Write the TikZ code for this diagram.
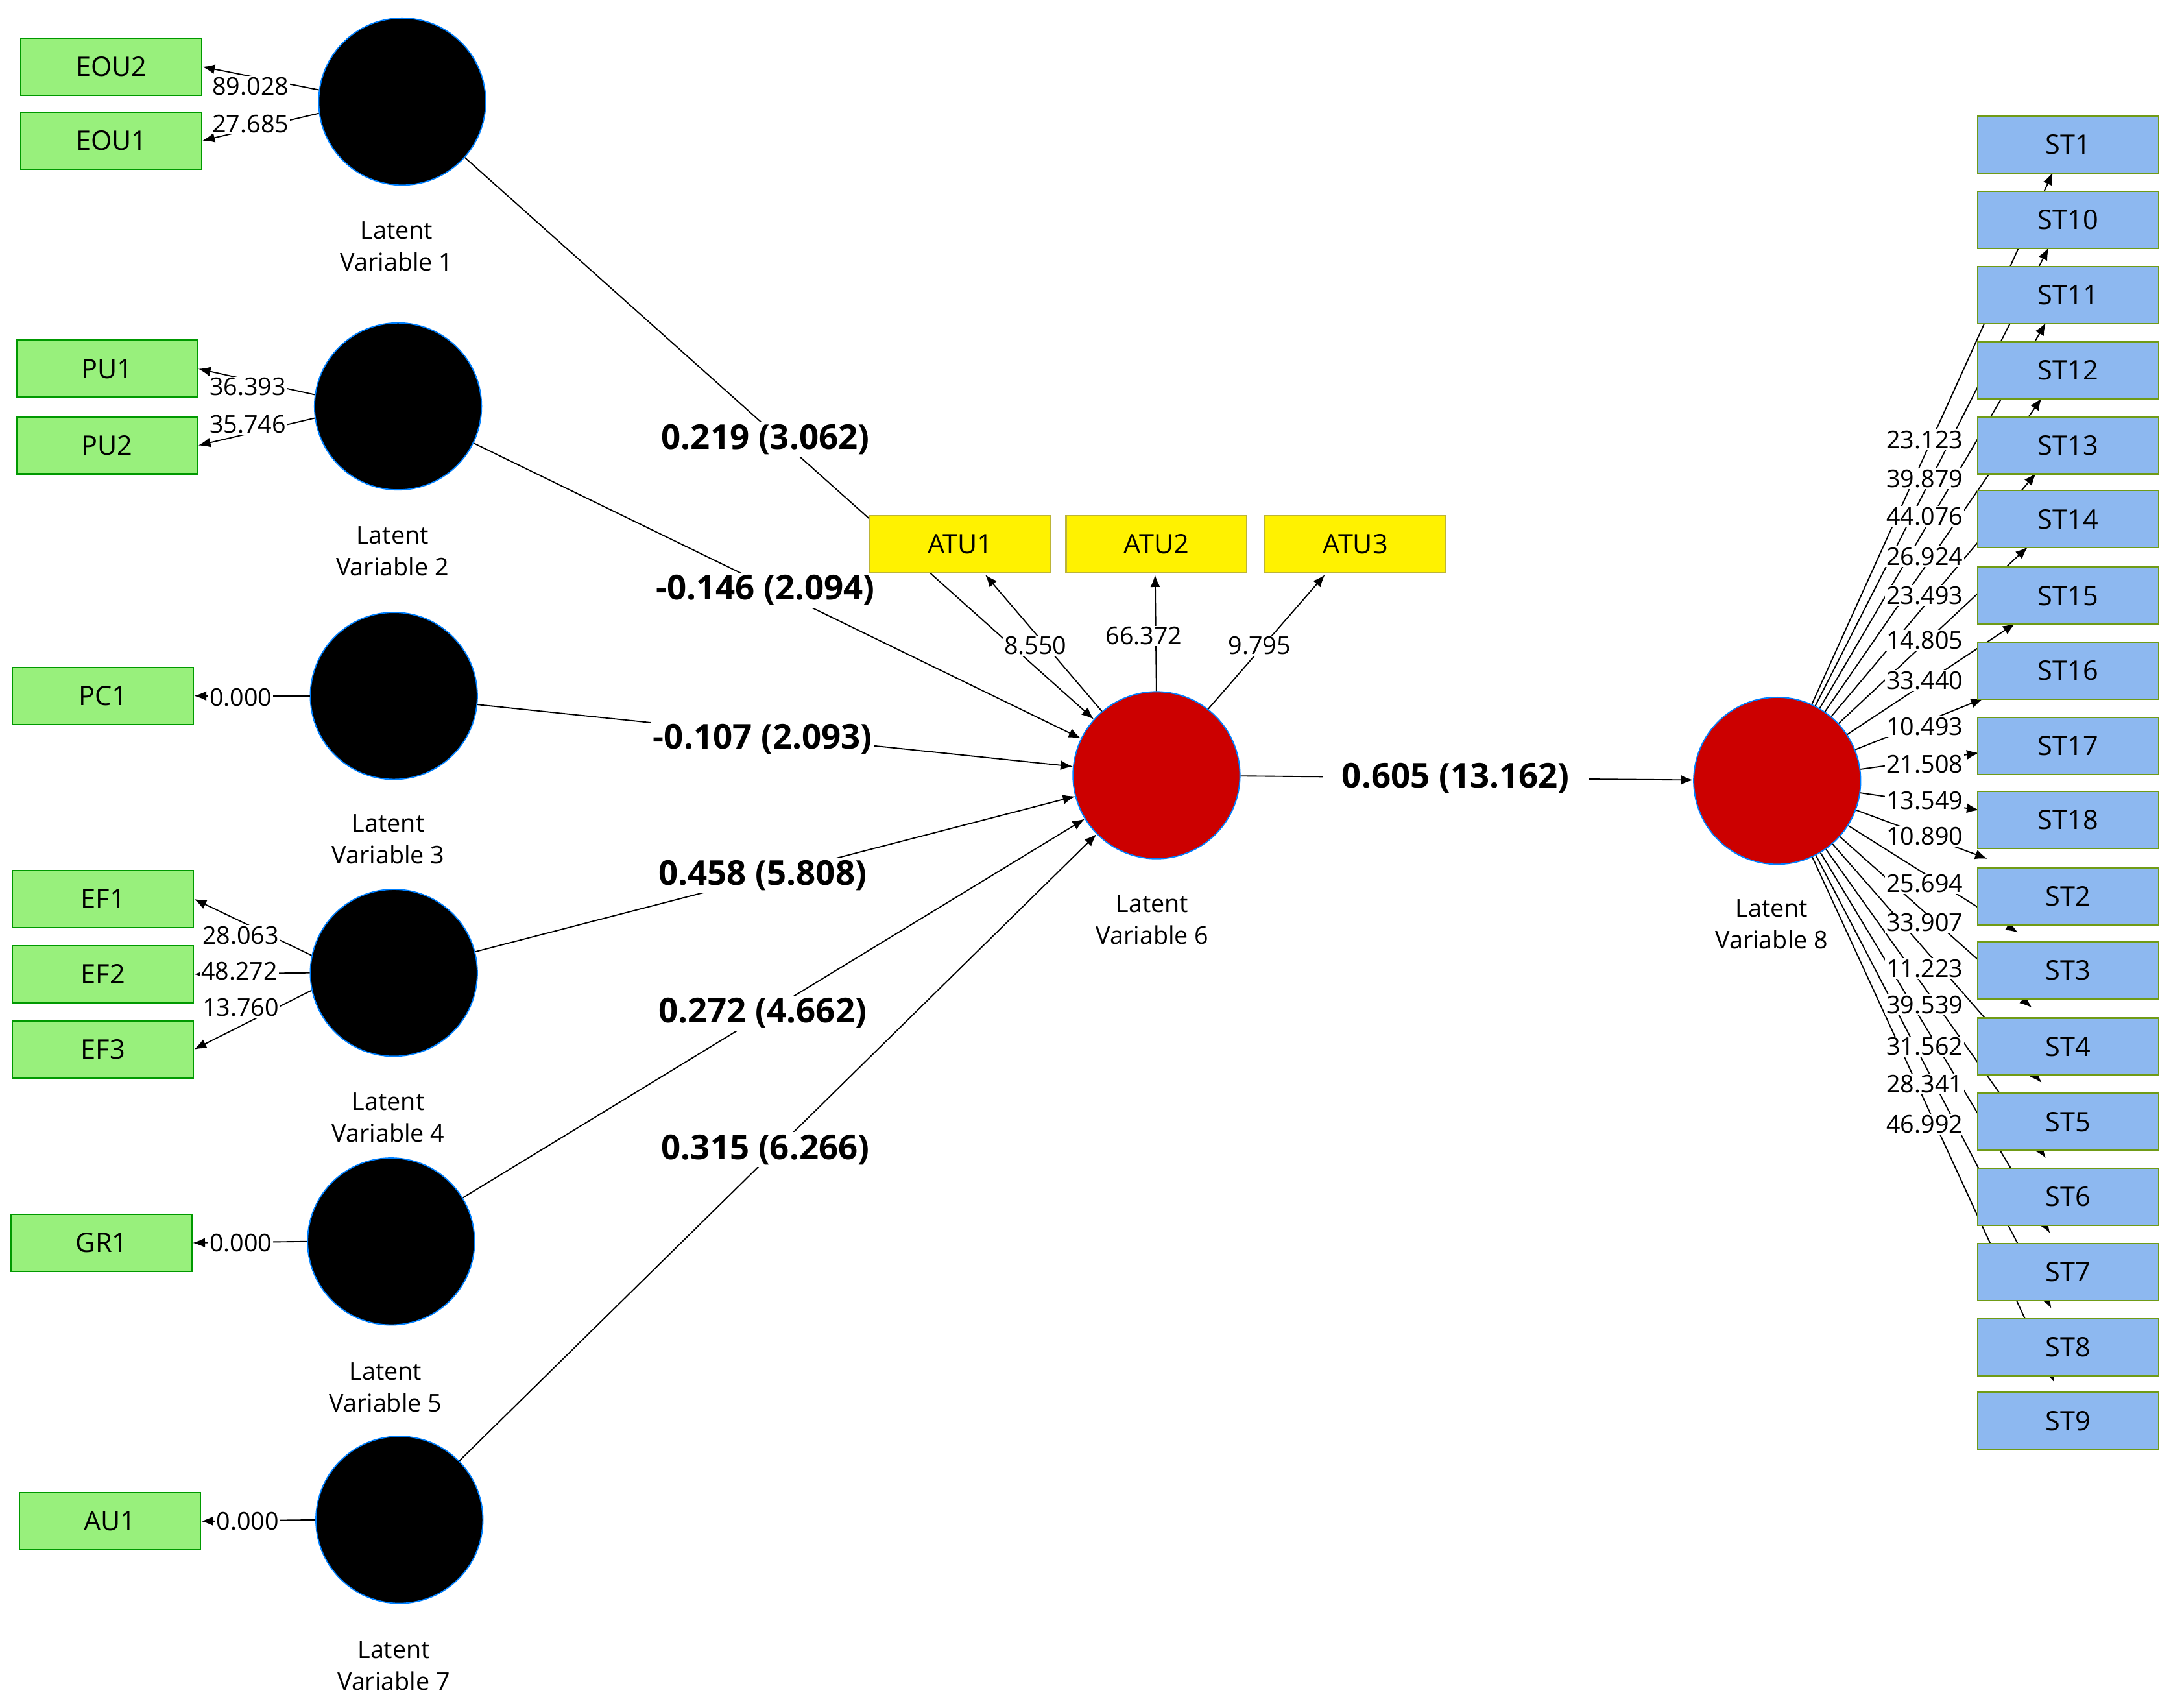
\documentclass[tikz,border=0pt]{standalone}
\usepackage{fontspec}
\setmainfont{Open Sans}
\usetikzlibrary{arrows.meta}
\definecolor{gfill}{HTML}{98F07C}
\definecolor{bfill}{HTML}{8DB8F0}
\begin{document}
\begin{tikzpicture}[x=0.02cm,y=-0.02cm,
 lv/.style={circle,fill=black,draw=blue!50!cyan,line width=0.5pt,minimum size=2.4cm,inner sep=0},
 lvr/.style={lv,fill=red!80!black},
 gbox/.style={fill=gfill,draw=green!60!black,line width=0.6pt,minimum width=2.6cm,minimum height=0.82cm,font=\fontsize{11}{12}\selectfont},
 ybox/.style={gbox,fill=yellow,draw=yellow!70!black},
 bbox/.style={gbox,fill=bfill,draw=olive!60!green,text=black},
 arr/.style={-{Latex[length=5pt,width=4pt]},line width=0.5pt},
 ln/.style={font=\fontsize{10}{11}\selectfont,fill=white,inner sep=0.5pt},
 pl/.style={font=\bfseries\fontsize{14}{15}\selectfont,fill=white,inner sep=1pt},
 lvcap/.style={font=\fontsize{10}{13}\selectfont,align=center}]
\useasboundingbox (0,0) rectangle (1560,1227);
% latent variables
\node[lv] (lv1) at (289,73) {};
\node[lv] (lv2) at (286,292) {};
\node[lv] (lv3) at (283,500) {};
\node[lv] (lv4) at (283,699) {};
\node[lv] (lv5) at (281,892) {};
\node[lv] (lv7) at (287,1092) {};
\node[lvr] (lv6) at (831,557) {};
\node[lvr] (lv8) at (1277,561) {};
\node[lvcap] (c1) at (285,177) {Latent\\Variable 1};
\node[lvcap] (c2) at (282,396) {Latent\\Variable 2};
\node[lvcap] (c3) at (279,603) {Latent\\Variable 3};
\node[lvcap] (c4) at (279,803) {Latent\\Variable 4};
\node[lvcap] (c5) at (277,997) {Latent\\Variable 5};
\node[lvcap] (c7) at (283,1197) {Latent\\Variable 7};
\node[lvcap] (c6) at (828,661) {Latent\\Variable 6};
\node[lvcap] (c8) at (1273,664) {Latent\\Variable 8};
% indicator boxes
\node[gbox] (eou2) at (80,48) {EOU2};
\node[gbox] (eou1) at (80,101) {EOU1};
\node[gbox] (pu1) at (77,265) {PU1};
\node[gbox] (pu2) at (77,320) {PU2};
\node[gbox] (pc1) at (74,500) {PC1};
\node[gbox] (ef1) at (74,646) {EF1};
\node[gbox] (ef2) at (74,700) {EF2};
\node[gbox] (ef3) at (74,754) {EF3};
\node[gbox] (gr1) at (73,893) {GR1};
\node[gbox] (au1) at (79,1093) {AU1};
% outer loadings left
\draw[arr] (lv1.172) -- (eou2.east);
\draw[arr] (lv1.188) -- (eou1.east);
\draw[arr] (lv2.172) -- (pu1.east);
\draw[arr] (lv2.188) -- (pu2.east);
\draw[arr] (lv3.west) -- (pc1.east);
\draw[arr] (lv4.168) -- (ef1.east);
\draw[arr] (lv4.west) -- (ef2.east);
\draw[arr] (lv4.192) -- (ef3.east);
\draw[arr] (lv5.west) -- (gr1.east);
\draw[arr] (lv7.west) -- (au1.east);
\node[ln] (l1) at (180,62) {89.028};
\node[ln] (l2) at (180,89) {27.685};
\node[ln] (l3) at (178,278) {36.393};
\node[ln] (l4) at (178,305) {35.746};
\node[ln] (l5) at (173,501) {0.000};
\node[ln] (l6) at (173,672) {28.063};
\node[ln] (l7) at (172,698) {48.272};
\node[ln] (l8) at (173,724) {13.760};
\node[ln] (l9) at (173,893) {0.000};
\node[ln] (l10) at (178,1093) {0.000};
% structural paths
\draw[arr] (lv1) -- (lv6);
\draw[arr] (lv2) -- (lv6);
\draw[arr] (lv3) -- (lv6);
\draw[arr] (lv4) -- (lv6);
\draw[arr] (lv5) -- (lv6);
\draw[arr] (lv7) -- (lv6);
\draw[arr] (lv6) -- (lv8);
% ATU
\node[ybox] (atu1) at (690,391) {ATU1};
\node[ybox] (atu2) at (831,391) {ATU2};
\node[ybox] (atu3) at (974,391) {ATU3};
\coordinate (a1) at (708,413);
\coordinate (a2) at (830,413);
\coordinate (a3) at (952,413);
\draw[arr] (lv6) -- (a1);
\draw[arr] (lv6.north) -- (a2);
\draw[arr] (lv6.52) -- (a3);
\node[ln] (la1) at (744,464) {8.550};
\node[ln] (la2) at (822,457) {66.372};
\node[ln] (la3) at (905,464) {9.795};
\node[pl] (p1) at (550,316) {0.219 (3.062)};
\node[pl] (p2) at (550,424) {-0.146 (2.094)};
\node[pl] (p3) at (548,531) {-0.107 (2.093)};
\node[pl] (p4) at (548,629) {0.458 (5.808)};
\node[pl] (p5) at (548,728) {0.272 (4.662)};
\node[pl] (p6) at (550,826) {0.315 (6.266)};
\node[pl,inner xsep=8pt] (p7) at (1046,559) {0.605 (13.162)};
% ST targets and lines
\foreach \n/\tx/\ty in {1/1475/124,2/1472/178,3/1470/232,4/1467/286,5/1463/340,6/1457/393,7/1448/448,8/1425/502,9/1422/541,10/1422/582,11/1428/617,12/1450/670,13/1460/724,14/1467/778,15/1470/832,16/1473/886,17/1474/940,18/1476/993}{
  \coordinate (t\n) at (\tx,\ty);
  \draw[arr] (lv8) -- (t\n);
}
\node[bbox] (st1) at (1486,104) {ST1};
\node[bbox] (st10) at (1486,158) {ST10};
\node[bbox] (st11) at (1486,212) {ST11};
\node[bbox] (st12) at (1486,266) {ST12};
\node[bbox] (st13) at (1486,320) {ST13};
\node[bbox] (st14) at (1486,373) {ST14};
\node[bbox] (st15) at (1486,428) {ST15};
\node[bbox] (st16) at (1486,482) {ST16};
\node[bbox] (st17) at (1486,536) {ST17};
\node[bbox] (st18) at (1486,589) {ST18};
\node[bbox] (st2) at (1486,644) {ST2};
\node[bbox] (st3) at (1486,697) {ST3};
\node[bbox] (st4) at (1486,752) {ST4};
\node[bbox] (st5) at (1486,806) {ST5};
\node[bbox] (st6) at (1486,860) {ST6};
\node[bbox] (st7) at (1486,914) {ST7};
\node[bbox] (st8) at (1486,968) {ST8};
\node[bbox] (st9) at (1486,1021) {ST9};
\foreach \v/\y [count=\i] in {23.123/316,39.879/344,44.076/371,26.924/400,23.493/428,14.805/460,33.440/489,10.493/522,21.508/549,13.549/575,10.890/601,25.694/635,33.907/663,11.223/696,39.539/722,31.562/752,28.341/779,46.992/808}{
  \node[ln] (sl\i) at (1383,\y) {\v};
}
\end{tikzpicture}
\end{document}
